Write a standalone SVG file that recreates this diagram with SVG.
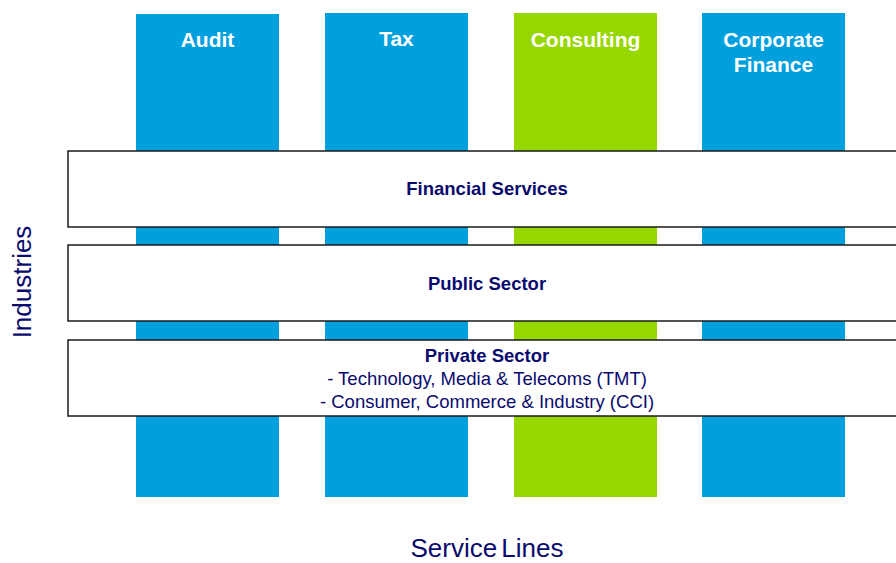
<svg xmlns="http://www.w3.org/2000/svg" width="896" height="563" viewBox="0 0 896 563">
<style>
.col{fill:#00A0DF}
.grn{fill:#97D700}
.ct{font-family:"Liberation Sans",Arial,sans-serif;font-weight:bold;font-size:21px;fill:#fff;text-anchor:middle}
.band{fill:#fff;stroke:#1a1a1a;stroke-width:1.5}
.bt{font-family:"Liberation Sans",Arial,sans-serif;font-weight:bold;font-size:18.5px;fill:#0a0a6e;text-anchor:middle}
.rt{font-family:"Liberation Sans",Arial,sans-serif;font-size:18.5px;fill:#0a0a6e;text-anchor:middle}
.ax{font-family:"Liberation Sans",Arial,sans-serif;font-size:26px;fill:#0a0a6e;text-anchor:middle}
</style>
<rect width="896" height="563" fill="#fff"/>
<g id="audit"><rect class="col" x="136" y="14" width="143" height="483"/><text class="ct" x="207.5" y="47">Audit</text></g>
<g id="tax"><rect class="col" x="325" y="13" width="143" height="484"/><text class="ct" x="396.5" y="46">Tax</text></g>
<g id="consulting"><rect class="grn" x="514" y="13" width="143" height="484"/><text class="ct" x="585.5" y="47">Consulting</text></g>
<g id="corporate-finance"><rect class="col" x="702" y="13" width="143" height="484"/><text class="ct" x="773.5" y="47">Corporate</text><text class="ct" x="773.5" y="72">Finance</text></g>
<g id="financial-services"><rect class="band" x="68" y="151" width="840" height="76"/><text class="bt" x="487" y="195">Financial Services</text></g>
<g id="public-sector"><rect class="band" x="68" y="245" width="840" height="76"/><text class="bt" x="487" y="290">Public Sector</text></g>
<g id="private-sector"><rect class="band" x="68" y="340" width="840" height="76"/><text class="bt" x="487" y="362">Private Sector</text><text class="rt" x="487" y="385">- Technology, Media &amp; Telecoms (TMT)</text><text class="rt" x="487" y="408">- Consumer, Commerce &amp; Industry (CCI)</text></g>
<g id="axes"><text class="ax" x="487" y="557" word-spacing="-3">Service Lines</text><text class="ax" transform="translate(31,282) rotate(-90)">Industries</text></g>
<g id="connectors"></g>
</svg>
